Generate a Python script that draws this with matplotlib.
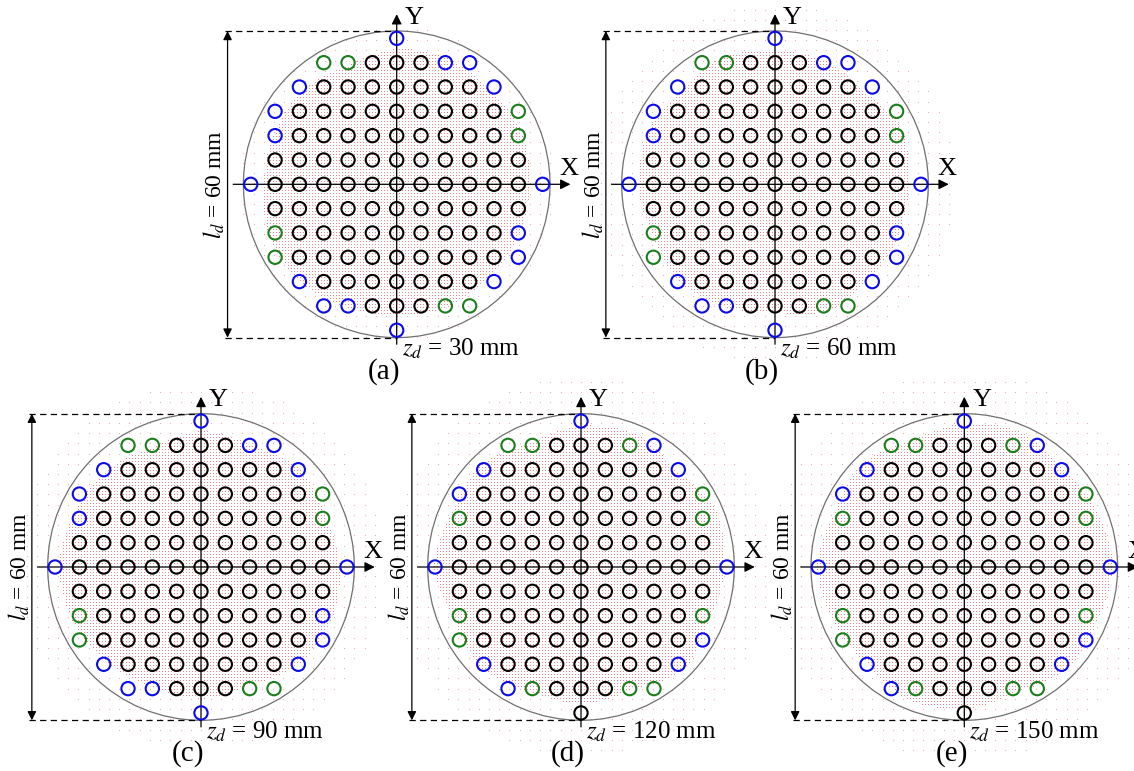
import numpy as np
import matplotlib.pyplot as plt
from matplotlib.patches import Circle

plt.rcParams['font.family'] = ['Liberation Serif', 'DejaVu Serif']
plt.rcParams['mathtext.fontset'] = 'stix'

labels = ['(a)', '(b)', '(c)', '(d)', '(e)']
z_d = [30, 60, 90, 120, 150]
l_d = 60
pitch = 4.76  # spacing of the sample grid, mm

# one string per row, y = +6 .. -6, one char per column x = -6 .. +6
# k = black, b = blue, g = green, . = nothing
rows_abc = [
    "......b......",
    "...ggkkkbb...",
    "..bkkkkkkkb..",
    ".bkkkkkkkkkg.",
    ".bkkkkkkkkkg.",
    ".kkkkkkkkkkk.",
    "bkkkkkkkkkkkb",
    ".kkkkkkkkkkk.",
    ".gkkkkkkkkkb.",
    ".gkkkkkkkkkb.",
    "..bkkkkkkkb..",
    "...bbkkkgg...",
    "......b......",
]
rows_de = [
    "......b......",
    "...ggkkkgb...",
    "..bkkkkkkkb..",
    ".bkkkkkkkkkg.",
    ".gkkkkkkkkkg.",
    ".kkkkkkkkkkk.",
    "bkkkkkkkkkkkb",
    ".kkkkkkkkkkk.",
    ".gkkkkkkkkkg.",
    ".gkkkkkkkkkb.",
    "..bkkkkkkkb..",
    "...bgkkkgg...",
    "......k......",
]
layouts = [rows_abc, rows_abc, rows_abc, rows_de, rows_de]

# edge of the dense red spot field, mm, every 22.5 deg
angles = np.arange(0, 360, 22.5)
r_a = [26, 26.5, 26, 26.5, 26.5, 25, 26, 26, 26, 27, 27, 26, 25.5, 26, 25.5, 26]
r_b = [26, 27, 25, 26, 26, 27, 26, 27, 27, 26, 27, 26, 25, 27, 26, 26]
r_c = [27, 26, 27, 25.5, 26.5, 25, 26.5, 27, 28, 27.5, 26.5, 25.5, 26, 25, 27, 27.5]
r_d = [28, 28.5, 26, 28, 27.5, 26, 28, 27.5, 29, 27, 28, 26.5, 27, 26, 28.5, 27]
r_e = [29, 28, 27, 28.5, 28, 26.5, 28.5, 27.5, 29, 28, 27, 28.5, 28, 26.5, 28.5, 28]
inner_r = [r_a, r_b, r_c, r_d, r_e]
halo_r = [31, 35, 36, 37, 38]

colors = {'k': 'black', 'b': '#0b0be8', 'g': '#1b7d1b'}

W, H = 1134, 771
centers = [(396.7, 184.3), (775, 184.3), (201, 567), (581, 567), (964.3, 567)]
s = 153.3 / 30  # px per mm
half = 40

fig = plt.figure(figsize=(W / 100, H / 100), dpi=100)

gd = np.arange(-40, 40, 3 / s)
gx, gy = np.meshgrid(gd, gd)
gh = np.arange(-40, 40, 2.0)
hx, hy = np.meshgrid(gh, gh)

def edge(x, y, r):
    th = np.degrees(np.arctan2(y, x)) % 360
    return np.interp(th, np.append(angles, 360), np.append(r, r[0]))

for i in range(5):
    cx, cy = centers[i]
    ax = fig.add_axes([(cx - half * s) / W, (H - cy - half * s) / H,
                       2 * half * s / W, 2 * half * s / H])
    ax.set_xlim(-half, half)
    ax.set_ylim(-half, half)
    ax.axis('off')

    # red spot field
    m = np.hypot(gx, gy) < edge(gx, gy, inner_r[i])
    ax.plot(gx[m], gy[m], ',', color='#ec5a62', alpha=0.75, zorder=1)
    rh = np.hypot(hx, hy)
    m = (rh >= edge(hx, hy, inner_r[i])) & (rh < halo_r[i])
    ax.plot(hx[m], hy[m], ',', color='#ec5a62', alpha=0.5, zorder=1)

    ax.add_patch(Circle((0, 0), l_d / 2, fill=False, ec='#707070', lw=0.9, zorder=2))

    # axes
    ap = dict(arrowstyle='-|>', color='black', lw=0.9, mutation_scale=15,
              shrinkA=0, shrinkB=0)
    ax.annotate('', xy=(34, 0), xytext=(-32, 0), arrowprops=ap, zorder=3)
    ax.annotate('', xy=(0, 33.3), xytext=(0, -31.3), arrowprops=ap, zorder=3)
    ax.text(33.7, 3.0, 'X', ha='center', va='center', fontsize=19)
    ax.text(1.6, 32.6, 'Y', ha='left', va='center', fontsize=19)

    # l_d dimension
    for yy in (l_d / 2, -l_d / 2):
        ax.plot([-33.6, 0], [yy, yy], color='black', lw=0.9, ls=(0, (5, 3.5)))
    ax.annotate('', xy=(-33.1, l_d / 2), xytext=(-33.1, -l_d / 2),
                arrowprops=dict(arrowstyle='<|-|>', color='black', lw=0.9,
                                mutation_scale=13, shrinkA=0, shrinkB=0))
    ax.text(-35.6, 0, r'$l_d$ = %d mm' % l_d, rotation=90, ha='center',
            va='center', fontsize=17)
    ax.text(1.0, -32.2, r'$z_d$ = %d mm' % z_d[i], ha='left', va='center',
            fontsize=18)
    ax.text(-2.5, -36.6, labels[i], ha='center', va='center', fontsize=21)

    # sample points
    for r, row in enumerate(layouts[i]):
        for c, ch in enumerate(row):
            if ch == '.':
                continue
            ax.add_patch(Circle(((c - 6) * pitch, (6 - r) * pitch), 1.3,
                                fill=False, ec=colors[ch], lw=1.5, zorder=4))

fig.savefig('out.png', dpi=100)
